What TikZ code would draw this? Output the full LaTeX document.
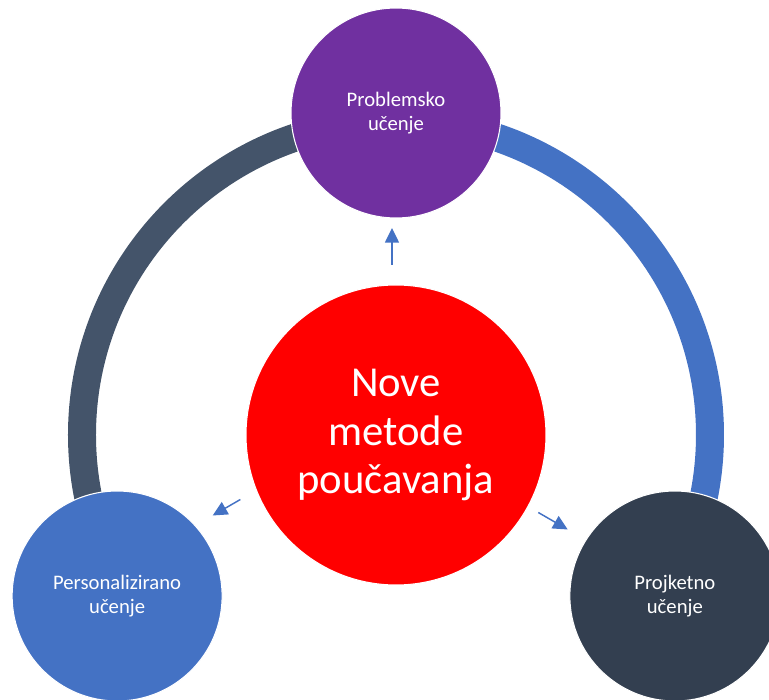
\documentclass[tikz,border=0pt]{standalone}
\usepackage{fontspec}
\setmainfont{Carlito}
\usetikzlibrary{calc, arrows.meta}

\definecolor{redmain}{HTML}{FF0000}
\definecolor{purpletop}{HTML}{7030A0}
\definecolor{bluemain}{HTML}{4472C4}
\definecolor{slatearc}{HTML}{44546A}
\definecolor{slatedark}{HTML}{333F50}

\begin{document}
\begin{tikzpicture}[
    x=0.75pt, y=0.75pt,
    every node/.style={circle, draw=white, line width=0.8pt, inner sep=0pt, align=center, text=white},
    outer/.style={minimum size=157.5pt, font=\fontsize{15.5}{18}\selectfont},
    ring/.style={line width=21pt},
    link/.style={-{Triangle[length=11pt, width=10.5pt]}, bluemain, line width=1.1pt}
]
    \useasboundingbox (-396,-265) rectangle (373,435);

    % Ring
    \draw[ring, slatearc] (90:235.5pt) arc[start angle=90, end angle=210, radius=235.5pt];
    \draw[ring, bluemain] (90:235.5pt) arc[start angle=90, end angle=-30, radius=235.5pt];

    % Circles
    \node[fill=redmain, minimum size=225pt, font=\fontsize{32}{36.5}\selectfont] (nove) at (0,0) {Nove\\metode\\poučavanja};
    \node[outer, fill=purpletop] (prob) at (90:241.5pt) {Problemsko\\učenje};
    \node[outer, fill=bluemain] (pers) at (210:241.5pt) {Personalizirano\\učenje};
    \node[outer, fill=slatedark] (proj) at (330:241.5pt) {Projketno\\učenje};

    % Arrows
    \draw[link, shorten <=127.5pt, shorten >=86.25pt] ([xshift=-3]nove.center) -- ([xshift=-3]prob.center);
    \draw[link, shorten <=125.25pt, shorten >=92.25pt] ([shift={(-11,19)}]nove.center) -- ([shift={(-11,19)}]pers.center);
    \draw[link, shorten <=121.5pt, shorten >=94.5pt] ([shift={(2,3.5)}]nove.center) -- ([shift={(2,3.5)}]proj.center);

\end{tikzpicture}
\end{document}
